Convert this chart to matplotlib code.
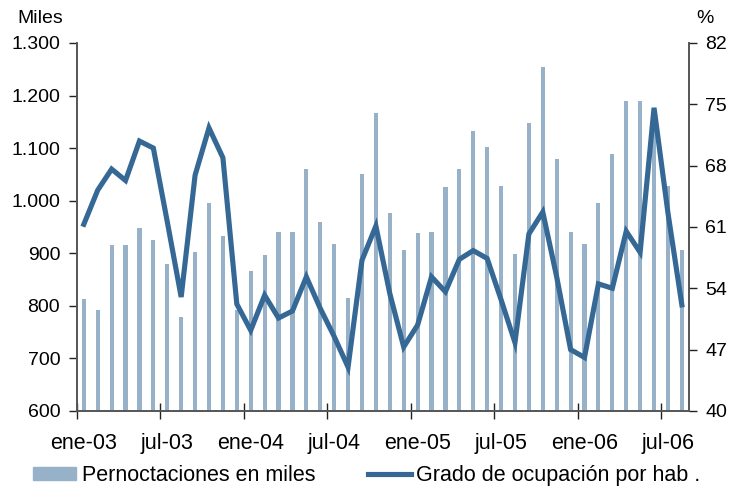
import matplotlib.pyplot as plt
from matplotlib.ticker import FuncFormatter
from matplotlib.patches import Patch
from matplotlib.lines import Line2D

plt.rcParams["font.family"] = ["Liberation Sans", "DejaVu Sans"]

# monthly, ene-03 .. ago-06
pernoctaciones = [812, 792, 915, 915, 947, 925, 880, 779, 902, 996, 932, 792,
                  867, 896, 941, 941, 1060, 960, 918, 815, 1051, 1167, 977, 906,
                  938, 941, 1025, 1060, 1132, 1102, 1028, 899, 1148, 1254, 1080, 941,
                  918, 996, 1089, 1190, 1190, 1150, 1028, 906]
ocupacion = [61.3, 65.2, 67.6, 66.3, 70.8, 70.0, 61.6, 53.0, 66.9, 72.3, 68.9, 52.2,
             49.2, 53.2, 50.6, 51.4, 55.3, 51.7, 48.5, 45.0, 57.2, 61.1, 53.4, 47.3,
             49.8, 55.3, 53.6, 57.3, 58.3, 57.4, 52.7, 47.8, 60.2, 62.7, 55.3, 47.0,
             46.1, 54.5, 54.0, 60.5, 58.1, 74.6, 62.6, 52.1]
tick_labels = ["ene-03", "jul-03", "ene-04", "jul-04", "ene-05", "jul-05", "ene-06", "jul-06"]

BAR = "#97b2c8"
LINE = "#356895"
AX = "#555555"

fig = plt.figure(figsize=(7.32, 4.88), dpi=100)
ax = fig.add_axes([0.105, 0.158, 0.836, 0.754])
ax2 = ax.twinx()

x = list(range(len(pernoctaciones)))
ax.bar(x, pernoctaciones, width=0.3, color=BAR, zorder=2)
ax2.plot(x, ocupacion, color=LINE, linewidth=3.7, solid_joinstyle="miter", zorder=3)

ax.set_xlim(-0.5, len(x) - 0.5)
ax.set_ylim(600, 1300)
ax.set_yticks(range(600, 1301, 100))
ax.yaxis.set_major_formatter(FuncFormatter(lambda v, p: f"{int(v):,}".replace(",", ".")))
ax2.set_ylim(40, 82)
ax2.set_yticks(range(40, 83, 7))

ax.set_xticks([i - 0.5 for i in range(0, len(x), 6)])
ax.set_xticklabels([])
ax.set_xticks(list(range(0, len(x), 6)), minor=True)
ax.set_xticklabels(tick_labels, minor=True)
ax.tick_params(axis="x", which="major", direction="inout", length=12, width=1, color="#222222")
ax.tick_params(axis="x", which="minor", length=0, pad=16, labelsize=15.5)
ax.tick_params(axis="y", direction="out", length=6, width=1, color="#222222", labelsize=14, pad=6)
ax2.tick_params(axis="y", direction="out", length=6, width=1, color="#222222", labelsize=14, pad=6)

for a in (ax, ax2):
    a.spines["top"].set_visible(False)
    for s in ("left", "right", "bottom"):
        a.spines[s].set_color(AX)
        a.spines[s].set_linewidth(1.2)
ax2.set_zorder(ax.get_zorder() + 1)
ax2.patch.set_visible(False)

fig.text(0.024, 0.962, "Miles", fontsize=14, va="center", ha="left")
fig.text(0.975, 0.962, "%", fontsize=14, va="center", ha="right")

handles = [Patch(color=BAR), Line2D([0], [0], color=LINE, linewidth=3.7)]
fig.legend(handles, ["Pernoctaciones en miles", "Grado de ocupación por hab ."],
           loc="lower left", bbox_to_anchor=(0.019, -0.035), ncol=2, frameon=False,
           fontsize=15.5, handlelength=2.0, handleheight=0.55, handletextpad=0.25,
           columnspacing=2.45)

fig.savefig("out.png", dpi=100)
